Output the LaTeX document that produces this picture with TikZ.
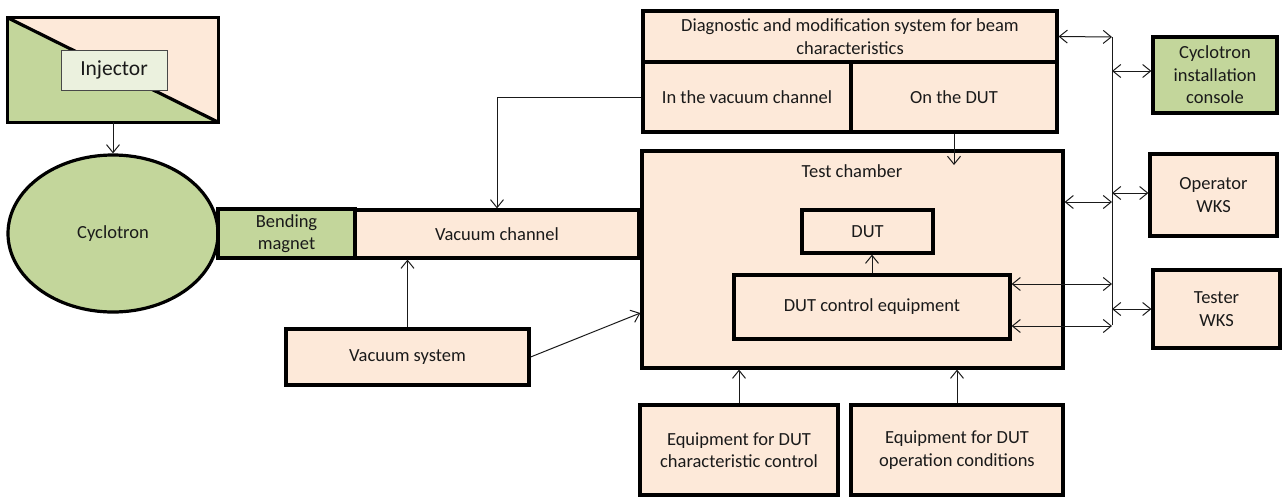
\documentclass[tikz,border=0pt]{standalone}
\usepackage{fontspec}
\setmainfont{Carlito}
\usetikzlibrary{arrows.meta,shapes.geometric}
\definecolor{peach}{HTML}{FDE9D9}
\definecolor{lgreen}{HTML}{C3D69B}
\definecolor{pgreen}{HTML}{EBF1DE}
\definecolor{ink}{HTML}{1A1A1A}
\begin{document}
\begin{tikzpicture}[x=1pt,y=-1pt,
  box/.style={draw=black, line width=3.2pt, fill=peach, inner sep=2pt, align=center, text=ink,
              font=\fontsize{18.5}{22.5}\selectfont},
  gbox/.style={box, fill=lgreen},
  txt/.style={text=ink, font=\fontsize{18.5}{22.5}\selectfont, inner sep=0pt},
  tip/.tip={Straight Barb[length=8pt,width=13pt]},
  arr/.style={draw=ink, line width=1pt, -tip},
  darr/.style={draw=ink, line width=1pt, tip-tip},
  thinline/.style={draw=ink, line width=1pt},
]
\useasboundingbox (0,0) rectangle (1284,498);

% Injector
\path node[minimum width=210pt, minimum height=104pt, inner sep=0pt] (inj) at (113,70) {};
\fill[peach] (inj.north west) rectangle (inj.south east);
\fill[lgreen] (inj.north west) -- (inj.south west) -- (inj.south east) -- cycle;
\draw[line width=3.2pt] (inj.north west) -- (inj.south east);
\draw[line width=3.2pt] (inj.north west) rectangle (inj.south east);
\node[draw=ink!80, line width=0.8pt, fill=pgreen, minimum width=106pt, minimum height=40pt,
      text=ink, font=\fontsize{21.5}{24}\selectfont] (injl) at (114,70) {Injector};

% Cyclotron and beam line
\node[ellipse, draw=black, line width=3.2pt, fill=lgreen, minimum width=210pt, minimum height=157pt,
      inner sep=0pt, text=ink, font=\fontsize{18.5}{22.5}\selectfont] (cyc) at (113,233.5) {Cyclotron};
\node[gbox, minimum width=137pt, minimum height=49pt] (bend) at (286.5,233.5) {Bending\\magnet};
\node[box, minimum width=284pt, minimum height=48pt] (vch) at (497,234) {Vacuum channel};
\node[box, minimum width=243pt, minimum height=56pt] (vsys) at (407.5,357) {Vacuum system};

% Diagnostic system
\node[box, minimum width=414pt, minimum height=51pt] (diagtop) at (850,36.5)
  {Diagnostic and modification system for beam\\characteristics};
\node[box, minimum width=208pt, minimum height=70pt] (invac) at (747,97) {In the vacuum channel};
\node[box, minimum width=206pt, minimum height=70pt] (ondut) at (954,97) {On the DUT};

% Test chamber
\node[box, minimum width=421pt, minimum height=217pt] (tch) at (852.5,259.5) {};
\node[txt] (tchl) at (852,171) {Test chamber};
\node[box, minimum width=131pt, minimum height=43pt] (dut) at (867.5,231.5) {DUT};
\node[box, minimum width=276pt, minimum height=64pt] (dutc) at (872,307) {DUT control equipment};

% Equipment
\node[box, minimum width=198pt, minimum height=90pt] (eq1) at (739,450)
  {Equipment for DUT\\characteristic control};
\node[box, minimum width=212pt, minimum height=90pt] (eq2) at (957,450)
  {Equipment for DUT\\operation conditions};

% Right column
\node[gbox, minimum width=124pt, minimum height=76pt] (cons) at (1215,75)
  {Cyclotron\\installation\\console};
\node[box, minimum width=127pt, minimum height=82pt] (oper) at (1213.5,195) {Operator\\WKS};
\node[box, minimum width=127pt, minimum height=78pt] (test) at (1216.5,309) {Tester\\WKS};

% Bus
\coordinate (busT) at (1112,37);
\coordinate (busB) at (1112,325);
\draw[thinline] (busT) -- (busB);

% Connectors
\draw[arr] (inj.south) -- (cyc.north);
\draw[arr] (invac.west) -| (vch.north);
\coordinate (ondutEnd) at (954,165);
\draw[arr] (ondut.south) -- (ondutEnd);
\draw[arr] (vsys.north) -- (vsys.north |- vch.south);
\draw[arr] (vsys.east) -- (tch.west |- 0,313);
\draw[arr] (dutc.north) -- (dutc.north |- dut.south);
\draw[arr] (eq1.north) -- (eq1.north |- tch.south);
\draw[arr] (eq2.north) -- (eq2.north |- tch.south);

\draw[darr] (diagtop.east) -- (busT);
\draw[darr] (busT |- 0,71) -- (cons.west |- 0,71);
\draw[darr] (tch.east |- 0,202) -- (busT |- 0,202);
\draw[darr] (busT |- 0,193) -- (oper.west |- 0,193);
\draw[darr] (dutc.east |- 0,284) -- (busT |- 0,284);
\draw[darr] (dutc.east |- 0,326) -- (busT |- 0,326);
\draw[darr] (busT |- test.west) -- (test.west);
\end{tikzpicture}
\end{document}
